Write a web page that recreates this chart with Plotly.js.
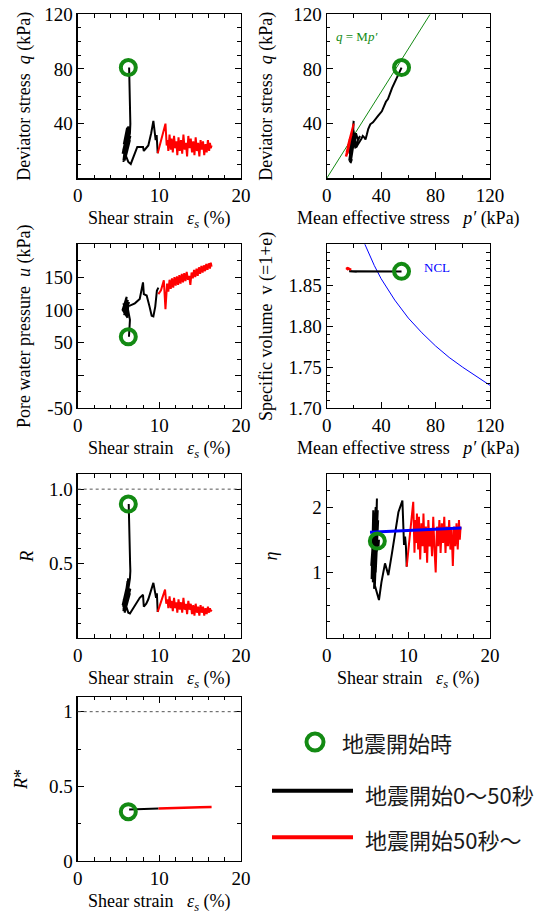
<!DOCTYPE html>
<html><head><meta charset="utf-8">
<script src="https://cdn.plot.ly/plotly-3.0.1.min.js"></script>
<style>html,body{margin:0;padding:0;background:#fff}</style>
</head><body><div id="chart" style="width:544px;height:914px"></div>
<script>
// ---------- data ----------
// Panel 1: shear strain vs deviator stress q
const sq_black_s = [6.30,6.38,6.42,6.45,6.40,5.80,6.10,5.60,6.20,5.70,6.30,5.50,6.00,5.60,6.25,5.90,6.40,5.70,6.35,5.55,6.15,5.75,6.45,5.65,6.05,5.85,6.30,5.60,6.20,6.50,6.80,7.00,7.30,7.60,8.00,8.10,8.40,8.65,9.00,9.27,9.55,9.67,9.80];
const sq_black_q = [81,62,45,40,33,14,36,12,38,15,35,18,32,13,30,16,28,22,37,20,34,13,31,25,37,17,26,21,12,10.5,15,19.5,23,23,23,20,22,24,33,42,28,31.7,18.3];
const sq_red_s = [9.80,10.2,10.5,10.75,10.9,11.0,11.1,11.25,11.4,11.5,11.65,11.8,11.95,12.1,12.2,12.35,12.5,12.65,12.8,12.95,13.1,13.25,13.4,13.55,13.7,13.85,14.0,14.15,14.3,14.45,14.6,14.75,14.9,15.05,15.2,15.35,15.5,15.65,15.8,15.95,16.1,16.2,16.3,16.4];
const sq_red_q = [18.3,27,35,40,24,28,20,32,21,29,19,31,22,27,17,30,20,28,18,32,21,26,16,31,22,29,19,27,17,30,20,26,16,28,21,27,17,25,19,28,20,26,22,24];

// Panel 2: mean effective stress p' vs q
const pq_black_p = [55,52.5,50,48,46.5,45,43.5,42,40.5,38,36,34,32,30.5,29.5,28.5,27.5,26.5,25.5,24,23,22,21,20.5,21.5,23,24.5,22,20.5,20,19.5,19.8,19,18,17,18.5,17.5,19,20.5,19.5,18,17.5,16.5,17.5,18.5,17,19.5,18,16.5];
const pq_black_q = [81,76,71,66,62,58,56,52,49,46,43.5,41,39.5,36,32,28.5,30,31,29,27,25,23,22.5,24,33,28,31,26,23,30,35,42,30,20,12,14,11,22,30,36,25,16,20,28,20,15,32,22,13];
const pq_red_p = [15.3,17.0,18.7,19.8,15.6,16.8,14.8,18.3,15.0,17.4,14.6,17.5,15.9,16.4,14.3,17.6,15.4,16.6,14.5,18.0,15.6,16.2,14.0,17.9,15.2,17.1,15.0,16.9,14.6,17.2,15.1,16.5,14.4,16.9,15.3,16.7,14.8,16.1,14.9,17.0,15.4,16.3,15.8,16.0];
const pq_red_q = sq_red_q;
const csl_p = [0, 76];
const csl_q = [0, 120];

// Panel 3: shear strain vs pore water pressure u
const su_black_s = [6.28,6.35,6.40,5.90,6.20,5.60,6.10,5.50,6.00,5.70,6.30,5.80,6.15,5.65,6.05,6.20,6.40,7.00,7.60,8.00,8.10,8.45,8.80,9.06,9.27,9.50,9.70,9.88];
const su_black_u = [59,72,85,118,95,110,88,100,120,92,112,98,115,104,90,106,106.5,110,116.7,142,124,122,105,91,90,105,129,134];
const su_red_s = [9.88,10.2,10.55,10.75,10.95,11.1,11.25,11.4,11.55,11.7,11.85,12.0,12.15,12.3,12.45,12.6,12.75,12.9,13.05,13.2,13.35,13.5,13.65,13.8,13.95,14.1,14.25,14.4,14.55,14.7,14.85,15.0,15.15,15.3,15.45,15.6,15.75,15.9,16.05,16.2,16.3,16.4];
const su_red_u = [124,130,145,101,140,128,146,132,148,134,150,137,151,138,153,140,155,142,156,144,158,146,152,138,157,148,161,150,163,152,165,155,167,157,168,159,170,161,171,163,172,166];

// Panel 4: p' vs specific volume v
const pv_black_p = [55,50,45,40,35,30,25,22,20,18,17,16.5,18,20,22];
const pv_black_v = [1.8668,1.8668,1.8667,1.8667,1.8667,1.8667,1.8667,1.8666,1.8666,1.8667,1.8668,1.8670,1.8666,1.8665,1.8666];
const pv_red_p = [16,15,14.3,15.5,17,18,16.5,15,14.5];
const pv_red_v = [1.8688,1.8695,1.8705,1.8712,1.8700,1.8690,1.8698,1.8708,1.8710];
const ncl_p = [27,28,30,35,40,50,60,70,80,90,100,110,120];
const ncl_v = [1.904,1.900,1.892,1.874,1.858,1.832,1.810,1.792,1.776,1.762,1.750,1.739,1.728];

// Panel 5: shear strain vs R
const sr_black_s = [6.25,6.38,6.42,6.45,6.40,5.80,6.10,5.60,6.20,5.70,6.30,5.50,6.00,5.60,6.25,5.90,6.40,5.70,6.35,5.55,6.15,5.75,6.45,5.65,6.20,6.40,6.80,7.20,7.60,8.00,8.10,8.40,8.65,9.27,9.50,9.60,9.70,9.80];
const sr_black_r = [0.90,0.70,0.50,0.45,0.40,0.18,0.38,0.19,0.40,0.20,0.36,0.22,0.34,0.18,0.32,0.20,0.30,0.25,0.39,0.21,0.35,0.17,0.33,0.26,0.17,0.165,0.20,0.24,0.27,0.29,0.21,0.23,0.26,0.37,0.28,0.27,0.30,0.175];
const sr_red_s = [9.80,10.2,10.5,10.7,10.85,11.0,11.1,11.25,11.4,11.5,11.65,11.8,11.95,12.1,12.2,12.35,12.5,12.65,12.8,12.95,13.1,13.25,13.4,13.55,13.7,13.85,14.0,14.15,14.3,14.45,14.6,14.75,14.9,15.05,15.2,15.35,15.5,15.65,15.8,15.95,16.1,16.2,16.3,16.4];
const sr_red_r = [0.175,0.24,0.29,0.325,0.23,0.26,0.20,0.28,0.20,0.25,0.18,0.27,0.20,0.24,0.17,0.26,0.19,0.24,0.17,0.27,0.19,0.23,0.16,0.25,0.19,0.23,0.16,0.22,0.15,0.23,0.17,0.21,0.15,0.22,0.17,0.21,0.15,0.20,0.16,0.21,0.17,0.20,0.18,0.19];

// Panel 6: shear strain vs eta
const se_black_s = [6.25,6.35,6.40,5.50,5.70,5.60,5.90,5.45,6.00,5.80,6.15,6.00,6.30,5.55,5.75,5.65,6.10,5.85,6.25,5.90,6.40,6.70,7.14,7.55,8.00,8.50,8.78,9.27,9.47,9.60,9.70,9.80];
const se_black_e = [1.47,1.40,1.50,0.90,1.95,0.95,1.90,1.10,2.00,0.75,2.13,1.00,1.80,1.20,1.85,0.85,1.70,0.90,1.95,0.80,0.58,0.85,1.14,0.96,1.30,1.75,1.92,2.10,1.42,1.55,1.40,1.09];
const se_red_s = [9.80,10.2,10.5,10.6,10.75,10.85,10.95,11.05,11.2,11.3,11.45,11.6,11.75,11.85,12.0,12.15,12.3,12.45,12.6,12.75,12.9,13.05,13.2,13.35,13.5,13.65,13.8,13.95,14.1,14.25,14.4,14.55,14.7,14.85,15.0,15.15,15.3,15.45,15.6,15.75,15.9,16.05,16.2,16.3,16.4];
const se_red_e = [1.09,1.60,2.00,2.08,1.30,1.80,1.45,1.90,1.35,1.85,1.20,1.75,1.40,1.90,1.30,1.70,1.15,1.80,1.40,1.65,1.25,1.85,1.35,1.00,1.70,1.40,1.80,1.30,1.75,1.45,1.85,1.30,1.70,1.40,1.80,1.35,1.65,1.10,1.70,1.40,1.75,1.35,1.80,1.50,1.70];
const eta_line_s = [5.3, 16.5];
const eta_line_e = [1.615, 1.68];

// Panel 7: shear strain vs R*
const srs_black_s = [6.30,7.0,8.0,9.0,9.9];
const srs_black_r = [0.345,0.347,0.348,0.350,0.351];
const srs_red_s = [9.9,11,12,13,14,15,16.4];
const srs_red_r = [0.351,0.354,0.356,0.357,0.359,0.360,0.362];

// Earthquake start points (green circles)
const start_s = 6.2;
const start_q = 81;
const start_p = 55;
const start_u = 59;
const start_v = 1.867;
const start_R = 0.90;
const start_eta = 1.48;
const start_Rs = 0.33;
const ref_level = 1;

// Tick labels / legend text
const legendTexts = ['地震開始時', '地震開始0〜50秒', '地震開始50秒〜'];

// ---------- styling ----------
const SERIF = 'Liberation Serif, Times New Roman, serif';
const GREEN = '#138a13';
const BLACK = '#000000';
const RED = '#ff0000';

function ax(o) {
  return {
    domain: o.domain, range: o.range, anchor: o.anchor,
    showgrid: false, zeroline: false,
    showline: true, linecolor: '#000', linewidth: 1.2, mirror: 'allticks',
    ticks: 'inside', ticklen: 6, tickwidth: 1, tickcolor: '#000',
    tickmode: 'array', tickvals: o.tickvals, ticktext: o.ticktext,
    tickfont: {family: SERIF, size: 19, color: '#000'},
    minor: {ticks: 'inside', ticklen: 3.5, tickwidth: 1, tickcolor: '#000', tickmode: 'linear', tick0: 0, dtick: o.minor, showgrid: false},
    title: {text: o.title, font: {family: SERIF, size: 18, color: '#000'}, standoff: o.standoff},
    fixedrange: true
  };
}

const XL = [0.1428, 0.4430], XR = [0.6006, 0.9007];
const Y1 = [0.8049, 0.9844], Y2 = [0.5533, 0.7327], Y3 = [0.3020, 0.4811], Y4 = [0.0580, 0.2377];
const NB = '\u00a0';
const strainTitle = 'Shear strain' + NB + NB + NB + '<i>ε<sub>s</sub></i>' + NB + '(%)';
const pTitle = 'Mean effective stress' + NB + NB + NB + '<i>p′</i>' + NB + '(kPa)';

const layout = {
  width: 544, height: 914,
  margin: {l: 0, r: 0, t: 0, b: 0},
  paper_bgcolor: '#fff', plot_bgcolor: '#fff',
  showlegend: false,
  xaxis:  ax({domain: XL, range: [0,20], anchor: 'y',  tickvals: [0,10,20], minor: 2, title: strainTitle, standoff: 6}),
  yaxis:  ax({domain: Y1, range: [0,120], anchor: 'x', tickvals: [40,80,120], minor: 10, title: 'Deviator stress' + NB + NB + '<i>q</i>' + NB + '(kPa)', standoff: 8}),
  xaxis2: ax({domain: XR, range: [0,120], anchor: 'y2', tickvals: [0,40,80,120], minor: 20, title: pTitle, standoff: 6}),
  yaxis2: ax({domain: Y1, range: [0,120], anchor: 'x2', tickvals: [40,80,120], minor: 10, title: 'Deviator stress' + NB + NB + '<i>q</i>' + NB + '(kPa)', standoff: 16}),
  xaxis3: ax({domain: XL, range: [0,20], anchor: 'y3', tickvals: [0,10,20], minor: 2, title: strainTitle, standoff: 6}),
  yaxis3: ax({domain: Y2, range: [-50,200], anchor: 'x3', tickvals: [-50,0,50,100,150], ticktext: ['-50','','50','100','150'], minor: 25, title: 'Pore water pressure' + NB + NB + '<i>u</i>' + NB + '(kPa)', standoff: 8}),
  xaxis4: ax({domain: XR, range: [0,120], anchor: 'y4', tickvals: [0,40,80,120], minor: 20, title: pTitle, standoff: 6}),
  yaxis4: ax({domain: Y2, range: [1.70,1.90], anchor: 'x4', tickvals: [1.70,1.75,1.80,1.85], ticktext: ['1.70','1.75','1.80','1.85'], minor: 0.01, title: 'Specific volume' + NB + NB + 'v' + NB + '(=1+e)', standoff: 11}),
  xaxis5: ax({domain: XL, range: [0,20], anchor: 'y5', tickvals: [0,10,20], minor: 2, title: strainTitle, standoff: 6}),
  yaxis5: ax({domain: Y3, range: [0,1.1], anchor: 'x5', tickvals: [0.5,1.0], ticktext: ['0.5','1.0'], minor: 0.1, title: '<i>R</i>', standoff: 10}),
  xaxis6: ax({domain: XR, range: [0,20], anchor: 'y6', tickvals: [0,10,20], minor: 2, title: strainTitle, standoff: 6}),
  yaxis6: ax({domain: Y3, range: [0,2.5], anchor: 'x6', tickvals: [1,2], minor: 0.25, title: '<i>η</i>', standoff: 30}),
  xaxis7: ax({domain: XL, range: [0,20], anchor: 'y7', tickvals: [0,10,20], minor: 2, title: strainTitle, standoff: 6}),
  yaxis7: ax({domain: Y4, range: [0,1.1], anchor: 'x7', tickvals: [0,0.5,1], ticktext: ['0','0.5','1'], minor: 0.25, title: '<i>R</i>*', standoff: 16}),
  shapes: [
    {type: 'line', xref: 'x5 domain', yref: 'y5', x0: 0, x1: 1, y0: ref_level, y1: ref_level, line: {color: '#555', width: 1, dash: '3px,3px'}},
    {type: 'line', xref: 'x7 domain', yref: 'y7', x0: 0, x1: 1, y0: ref_level, y1: ref_level, line: {color: '#555', width: 1, dash: '3px,3px'}},
    // legend marks
    {type: 'circle', xref: 'paper', yref: 'paper', xsizemode: 'pixel', ysizemode: 'pixel', xanchor: 315/544, yanchor: (914-742)/914, x0: -8.5, x1: 8.5, y0: -8.5, y1: 8.5, line: {color: GREEN, width: 4}},
    {type: 'line', xref: 'paper', yref: 'paper', x0: 272/544, x1: 353/544, y0: (914-790.7)/914, y1: (914-790.7)/914, line: {color: BLACK, width: 4}},
    {type: 'line', xref: 'paper', yref: 'paper', x0: 272/544, x1: 353/544, y0: (914-837.3)/914, y1: (914-837.3)/914, line: {color: RED, width: 4}}
  ],
  annotations: [
    {xref: 'x2', yref: 'y2', x: 22, y: 104, text: '<i>q</i> = M<i>p′</i>', showarrow: false, font: {family: SERIF, size: 13, color: GREEN}},
    {xref: 'x4', yref: 'y4', x: 70, y: 1.872, xanchor: 'left', text: 'NCL', showarrow: false, font: {family: SERIF, size: 13, color: '#0000ff'}},
    {xref: 'paper', yref: 'paper', x: 340/544, y: (914-742)/914, xanchor: 'left', yanchor: 'middle', text: legendTexts[0], showarrow: false, font: {family: 'Noto Sans CJK JP', size: 22, color: '#1a1a1a'}},
    {xref: 'paper', yref: 'paper', x: 363/544, y: (914-794)/914, xanchor: 'left', yanchor: 'middle', text: legendTexts[1], showarrow: false, font: {family: 'Noto Sans CJK JP', size: 22, color: '#1a1a1a'}},
    {xref: 'paper', yref: 'paper', x: 363/544, y: (914-839)/914, xanchor: 'left', yanchor: 'middle', text: legendTexts[2], showarrow: false, font: {family: 'Noto Sans CJK JP', size: 22, color: '#1a1a1a'}}
  ]
};

function line(x, y, xa, ya, color, w) {
  return {type: 'scatter', mode: 'lines', x: x, y: y, xaxis: xa, yaxis: ya, line: {color: color, width: w}, hoverinfo: 'skip'};
}
function circ(x, y, xa, ya) {
  return {type: 'scatter', mode: 'markers', x: [x], y: [y], xaxis: xa, yaxis: ya, marker: {symbol: 'circle-open', size: 15, color: GREEN, line: {width: 4, color: GREEN}}, hoverinfo: 'skip'};
}

const data = [
  line(sq_black_s, sq_black_q, 'x', 'y', BLACK, 2),
  line(sq_red_s, sq_red_q, 'x', 'y', RED, 2),
  circ(start_s, start_q, 'x', 'y'),

  line(csl_p, csl_q, 'x2', 'y2', GREEN, 1),
  line(pq_black_p, pq_black_q, 'x2', 'y2', BLACK, 2),
  line(pq_red_p, pq_red_q, 'x2', 'y2', RED, 2),
  circ(start_p, start_q, 'x2', 'y2'),

  line(su_black_s, su_black_u, 'x3', 'y3', BLACK, 2),
  line(su_red_s, su_red_u, 'x3', 'y3', RED, 2),
  circ(start_s, start_u, 'x3', 'y3'),

  line(ncl_p, ncl_v, 'x4', 'y4', '#0000ff', 1),
  line(pv_black_p, pv_black_v, 'x4', 'y4', BLACK, 2),
  line(pv_red_p, pv_red_v, 'x4', 'y4', RED, 2),
  circ(start_p, start_v, 'x4', 'y4'),

  line(sr_black_s, sr_black_r, 'x5', 'y5', BLACK, 2),
  line(sr_red_s, sr_red_r, 'x5', 'y5', RED, 2),
  circ(start_s, start_R, 'x5', 'y5'),

  line(se_black_s, se_black_e, 'x6', 'y6', BLACK, 2),
  line(se_red_s, se_red_e, 'x6', 'y6', RED, 2),
  line(eta_line_s, eta_line_e, 'x6', 'y6', '#0000ff', 3),
  circ(start_s, start_eta, 'x6', 'y6'),

  line(srs_black_s, srs_black_r, 'x7', 'y7', BLACK, 2),
  line(srs_red_s, srs_red_r, 'x7', 'y7', RED, 2.5),
  circ(start_s, start_Rs, 'x7', 'y7')
];

Plotly.newPlot('chart', data, layout, {staticPlot: true, displayModeBar: false});
</script></body></html>
